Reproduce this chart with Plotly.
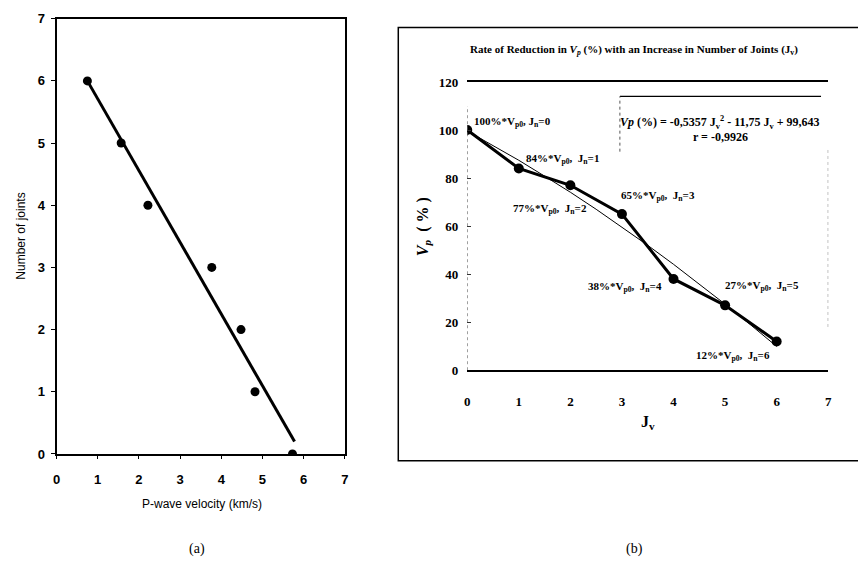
import plotly.graph_objects as go

W, H = 858, 573

# ---------- data, panel (a) ----------
vp_kms = [0.75, 1.57, 2.22, 3.77, 4.48, 4.82, 5.73]
n_joints = [6, 5, 4, 3, 2, 1, 0]
fit_a_x = [0.75, 5.78]
fit_a_y = [6.0, 0.2]
a_ticks = [0, 1, 2, 3, 4, 5, 6, 7]

# ---------- data, panel (b) ----------
jv = [0, 1, 2, 3, 4, 5, 6]
vp_pct = [100, 84, 77, 65, 38, 27, 12]
fit_b_x = [0, 0.5, 1, 1.5, 2, 2.5, 3, 3.5, 4, 4.5, 5, 5.5, 6]
fit_b_y = [99.6, 93.6, 87.4, 80.8, 74.1, 67.0, 59.6, 52.0, 44.1, 35.9, 27.5, 18.8, 9.9]
b_labels = ["100%*V<sub>p0</sub>, J<sub>n</sub>=0", "84%*V<sub>p0</sub>,  J<sub>n</sub>=1",
            "77%*V<sub>p0</sub>,  J<sub>n</sub>=2", "65%*V<sub>p0</sub>,  J<sub>n</sub>=3",
            "38%*V<sub>p0</sub>,  J<sub>n</sub>=4", "27%*V<sub>p0</sub>,  J<sub>n</sub>=5",
            "12%*V<sub>p0</sub>,  J<sub>n</sub>=6"]
b_label_x = [0.1, 1.1, 0.85, 2.95, 2.3, 4.95, 4.39]
b_label_y = [103.5, 88, 67.3, 72.5, 34.8, 35, 5.8]
b_xticks = [0, 1, 2, 3, 4, 5, 6, 7]
b_yticks = [0, 20, 40, 60, 80, 100, 120]

def px(x):
    return x / W

def py(y):
    return 1 - y / H

SANS = "Liberation Sans, Arial, sans-serif"
SERIF = "Liberation Serif, Times New Roman, serif"

fig = go.Figure()

# panel (a)
fig.add_trace(go.Scatter(x=fit_a_x, y=fit_a_y, mode="lines",
                         line=dict(color="black", width=3), xaxis="x", yaxis="y",
                         showlegend=False, hoverinfo="skip"))
fig.add_trace(go.Scatter(x=vp_kms, y=n_joints, mode="markers",
                         marker=dict(color="black", size=9), xaxis="x", yaxis="y",
                         showlegend=False))

# panel (b)
fig.add_trace(go.Scatter(x=fit_b_x, y=fit_b_y, mode="lines",
                         line=dict(color="black", width=1), xaxis="x2", yaxis="y2",
                         showlegend=False, hoverinfo="skip"))
fig.add_trace(go.Scatter(x=jv, y=vp_pct, mode="lines+markers",
                         line=dict(color="black", width=3),
                         marker=dict(color="black", size=10), xaxis="x2", yaxis="y2",
                         showlegend=False))

fig.update_layout(
    width=W, height=H, margin=dict(l=0, r=0, t=0, b=0),
    paper_bgcolor="white", plot_bgcolor="white",
    xaxis=dict(domain=[px(53), px(344)], range=[0, 7], tickvals=a_ticks,
               showline=True, mirror=True, linecolor="black", linewidth=2,
               ticks="outside", ticklen=3, tickwidth=1, tickcolor="black",
               showgrid=False, zeroline=False, anchor="y",
               ticklabelstandoff=9,
               tickfont=dict(family=SANS, size=13, color="black", weight="bold")),
    yaxis=dict(domain=[py(459), py(12)], range=[0, 7], tickvals=a_ticks,
               showline=True, mirror=True, linecolor="black", linewidth=2,
               ticks="outside", ticklen=4, tickwidth=1, tickcolor="black",
               showgrid=False, zeroline=False, anchor="x",
               ticklabelstandoff=3,
               tickfont=dict(family=SANS, size=13, color="black", weight="bold")),
    xaxis2=dict(domain=[px(467.6), px(832)], range=[0, 7], tickvals=b_xticks,
                showline=True, mirror=True, linecolor="black", linewidth=2,
                ticks="", showgrid=False, zeroline=False, anchor="y2",
                ticklabelstandoff=18,
                tickfont=dict(family=SERIF, size=13, color="black", weight="bold")),
    yaxis2=dict(domain=[py(373), py(77)], range=[0, 120], tickvals=b_yticks,
                showline=False, ticks="inside", ticklen=4, tickwidth=1, tickcolor="#333",
                showgrid=False, zeroline=False, anchor="x2",
                ticklabelstandoff=8,
                tickfont=dict(family=SERIF, size=13, color="black", weight="bold")),
)

shapes = []
# outer frame of panel (b)
shapes.append(dict(type="rect", xref="paper", yref="paper",
                   x0=px(398), x1=px(870), y0=py(466), y1=py(21),
                   line=dict(color="black", width=1.5)))
# dotted left axis and right edge of panel (b)
shapes.append(dict(type="line", xref="x2", yref="y2", x0=0, x1=0, y0=0, y1=110,
                   line=dict(color="#555", width=1, dash="dot")))
shapes.append(dict(type="line", xref="x2", yref="y2", x0=7, x1=7, y0=18, y1=92,
                   line=dict(color="#777", width=1, dash="dot")))
# equation box
shapes.append(dict(type="line", xref="x2", yref="y2", x0=2.96, x1=6.86, y0=114, y1=114,
                   line=dict(color="black", width=1.2)))
shapes.append(dict(type="line", xref="x2", yref="y2", x0=2.96, x1=2.96, y0=91, y1=114,
                   line=dict(color="#555", width=1, dash="dot")))
fig.update_layout(shapes=shapes)

ann = []
def add(text, x, y, font, angle=0):
    ann.append(dict(text=text, xref="paper", yref="paper", x=px(x), y=py(y),
                    xanchor="center", yanchor="middle", showarrow=False,
                    textangle=angle, font=font))

add("Number of joints", 17, 235, dict(family=SANS, size=12, color="black"), -90)
add("P-wave velocity (km/s)", 200, 510, dict(family=SANS, size=12, color="black"))
add("(a)", 195, 557, dict(family=SERIF, size=14, color="black"))
add("(b)", 636, 557, dict(family=SERIF, size=14, color="black"))
add("Rate of Reduction in <i>V<sub>p</sub></i> (%) with an Increase in Number of Joints (J<sub>v</sub>)",
    636, 44, dict(family=SERIF, size=11, color="black", weight="bold"))
add("<i>V<sub>p</sub></i>  ( % )", 423, 226,
    dict(family=SERIF, size=16, color="black", weight="bold"), -90)
add("J<sub>v</sub>", 650, 427, dict(family=SERIF, size=16, color="black", weight="bold"))
add("<i>Vp</i> (%) = -0,5357 J<sub>v</sub><sup>2</sup> - 11,75 J<sub>v</sub> + 99,643",
    723, 119, dict(family=SERIF, size=12, color="black", weight="bold"))
add("r = -0,9926", 723, 134, dict(family=SERIF, size=12, color="black", weight="bold"))
for t, x, y in zip(b_labels, b_label_x, b_label_y):
    ann.append(dict(text=t, xref="x2", yref="y2", x=x, y=y, xanchor="left",
                    yanchor="middle", showarrow=False,
                    font=dict(family=SERIF, size=11, color="black", weight="bold")))
fig.update_layout(annotations=ann)

fig.write_html("out.html")
